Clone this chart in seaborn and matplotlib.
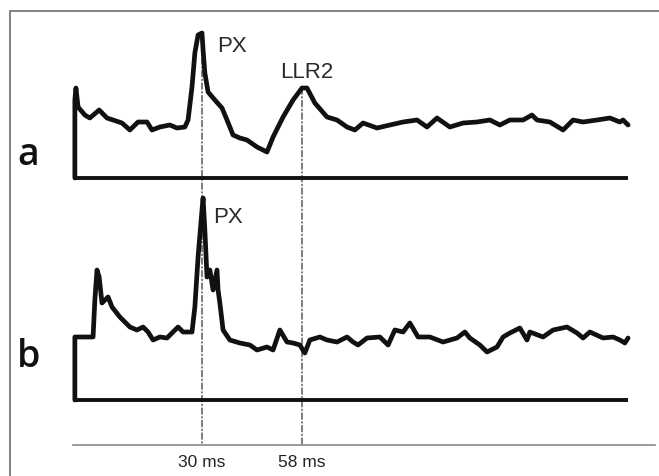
import matplotlib
matplotlib.use("Agg")
import matplotlib.pyplot as plt
from matplotlib.patches import ConnectionPatch
from matplotlib.lines import Line2D
import seaborn as sns
import pandas as pd

# Averaged EMG responses, time in ms, amplitude in arbitrary units
time_a = [-5.6, -5.6, -5.3, -4.7, -2.8, -1.4, 1.2, 3.4, 5.1, 7.6, 9.8, 12.1, 14.6,
          16.0, 18.2, 21.0, 23.0, 25.2, 26.1, 27.2, 28.0, 28.9, 30.0, 30.3, 30.8,
          31.7, 33.6, 35.6, 37.0, 38.7, 40.6, 42.6, 45.4, 48.2, 49.9, 52.7, 55.5,
          58.0, 59.4, 61.6, 65.0, 67.8, 70.6, 72.8, 75.1, 79.0, 82.6, 86.3, 90.2,
          93.0, 95.8, 99.4, 103.1, 107.0, 110.6, 113.4, 116.2, 119.9, 122.4, 123.8,
          127.4, 131.1, 133.9, 136.7, 140.6, 144.2, 147.0, 147.9, 149.3]
amp_a = [0.0, 7.8, 9.0, 7.1, 6.3, 6.0, 6.8, 6.0, 5.8, 5.5, 4.8, 5.6, 5.6,
         4.8, 5.1, 5.3, 5.0, 5.1, 5.8, 9.1, 12.5, 14.3, 14.5, 12.8, 10.5,
         8.6, 7.8, 7.0, 5.8, 4.3, 4.0, 3.8, 3.1, 2.6, 4.1, 6.1, 7.8,
         9.0, 9.0, 7.5, 6.1, 5.8, 5.1, 4.8, 5.5, 5.0, 5.3, 5.6, 5.8,
         5.1, 6.0, 5.1, 5.5, 5.6, 5.8, 5.3, 5.8, 5.8, 6.3, 5.8,
         5.6, 4.8, 5.8, 5.6, 5.8, 6.0, 5.6, 5.8, 5.3]

time_b = [-5.6, -5.6, -0.5, 0.0, 0.6, 1.2, 2.0, 3.7, 4.8, 7.0, 9.8, 11.8, 13.5,
          14.9, 16.3, 18.2, 20.2, 21.6, 23.3, 24.7, 27.2, 28.0, 28.9, 30.0, 30.3,
          30.8, 31.4, 32.2, 33.1, 34.2, 34.5, 35.0, 35.9, 37.8, 40.6, 43.4, 45.4,
          48.2, 49.9, 51.8, 53.8, 55.5, 57.4, 58.8, 60.2, 63.0, 65.0, 67.8, 70.6,
          72.3, 73.7, 76.2, 79.8, 82.1, 84.0, 86.3, 88.2, 90.5, 93.8, 97.5, 101.4,
          103.6, 105.0, 107.8, 109.8, 112.6, 114.3, 116.2, 119.0, 121.0, 121.8,
          125.5, 128.3, 132.2, 135.0, 136.7, 138.6, 142.3, 145.1, 147.0, 148.4, 149.3]
amp_b = [0.0, 6.3, 6.3, 10.0, 13.0, 12.3, 9.7, 10.3, 9.3, 8.3, 7.3, 7.0, 7.3,
         6.8, 6.0, 6.3, 6.2, 6.7, 7.3, 6.8, 6.8, 9.3, 14.3, 19.0, 20.2,
         17.0, 12.3, 13.0, 11.0, 13.0, 11.0, 9.7, 7.0, 6.0, 5.7, 5.5, 5.0,
         5.3, 5.0, 7.0, 5.8, 5.7, 5.5, 4.7, 6.0, 6.3, 6.0, 5.8, 6.3,
         5.8, 5.5, 6.2, 6.3, 5.5, 7.0, 6.8, 7.7, 6.3, 6.3, 5.8, 6.2,
         6.8, 6.2, 5.5, 4.8, 5.3, 6.3, 6.7, 7.2, 6.0, 6.8,
         6.3, 7.0, 7.3, 6.7, 6.2, 6.8, 6.2, 6.3, 6.0, 5.7, 6.2]

sweep = [-5.6, 149.3]            # extent of the zero line under each trace
marker_ms = [30, 58]             # latencies marked by the dash-dot guides
marker_labels = ["30 ms", "58 ms"]
panel_labels = ["a", "b"]

# Peak annotations: (text, time, amplitude)
peaks_a = [("PX", 34.2, 12.6), ("LLR2", 51.8, 10.0)]
peaks_b = [("PX", 33.1, 17.7)]

df_a = pd.DataFrame({"t": time_a, "v": amp_a})
df_b = pd.DataFrame({"t": time_b, "v": amp_b})

sns.set_theme(style="white")
plt.rcParams["font.family"] = ["Liberation Sans", "DejaVu Sans"]

W, H = 659, 476
fig = plt.figure(figsize=(W / 100, H / 100), dpi=100)
fig.patch.set_facecolor("white")


def rect(x0, y0, x1, y1):
    return [x0 / W, 1 - y1 / H, (x1 - x0) / W, (y1 - y0) / H]


XLIM = (-9.76, 156.84)
ax_a = fig.add_axes(rect(60, 20, 655, 185))
ax_b = fig.add_axes(rect(60, 185, 655, 410))
ax_t = fig.add_axes(rect(60, 430, 655, 445))
ax_a.set_ylim(-0.7, 15.8)
ax_b.set_ylim(-1.0, 21.5)
ax_t.set_ylim(0, 1)

ink = "#111111"
for ax, df in ((ax_a, df_a), (ax_b, df_b)):
    ax.set_xlim(*XLIM)
    ax.patch.set_alpha(0)
    sns.lineplot(data=df, x="t", y="v", ax=ax, color=ink, lw=3.4,
                 estimator=None, sort=False)
    ax.plot(sweep, [0, 0], color=ink, lw=2.8, solid_capstyle="butt")
    ax.lines[0].set_solid_joinstyle("round")
    ax.set_axis_off()

for ax, peaks in ((ax_a, peaks_a), (ax_b, peaks_b)):
    for name, t, v in peaks:
        ax.text(t, v, name, fontsize=16, color="#2a2a2a", ha="left", va="baseline")

# time axis
ax_t.set_xlim(*XLIM)
ax_t.patch.set_alpha(0)
for side in ("top", "left", "right"):
    ax_t.spines[side].set_visible(False)
ax_t.spines["bottom"].set_color("#8a8a8a")
ax_t.spines["bottom"].set_linewidth(1.2)
ax_t.spines["bottom"].set_bounds(-6.1, 156.8)
ax_t.set_yticks([])
ax_t.set_xticks(marker_ms)
ax_t.set_xticklabels(marker_labels)
ax_t.tick_params(axis="x", length=3, width=0.8, direction="in", color="#333333",
                 pad=7, labelsize=12.5, labelcolor="#222222")

# dash-dot guides from the response peaks down to the time axis
guide_tops = [max(amp_a), amp_a[time_a.index(58.0)]]
for t, top in zip(marker_ms, guide_tops):
    con = ConnectionPatch(xyA=(t, top), coordsA=ax_a.transData,
                          xyB=(t, 0), coordsB=ax_t.transData,
                          color="#333333", lw=0.9, linestyle=(0, (5, 2, 1, 2)),
                          zorder=0)
    fig.add_artist(con)

# panel letters
for lab, ybase in zip(panel_labels, (165, 367)):
    fig.text(17 / W, 1 - ybase / H, lab, fontsize=27, fontweight="semibold",
             family=["Open Sans", "DejaVu Sans"],
             color="#111111", ha="left", va="baseline")

# outer frame (top and left edges)
frame_kw = dict(color="#7a7a7a", lw=1.3, transform=fig.transFigure)
fig.add_artist(Line2D([10 / W, 1.0], [1 - 11 / H, 1 - 11 / H], **frame_kw))
fig.add_artist(Line2D([10 / W, 10 / W], [1 - 11 / H, 0.0], **frame_kw))

fig.savefig("out.png", dpi=100, facecolor="white")
